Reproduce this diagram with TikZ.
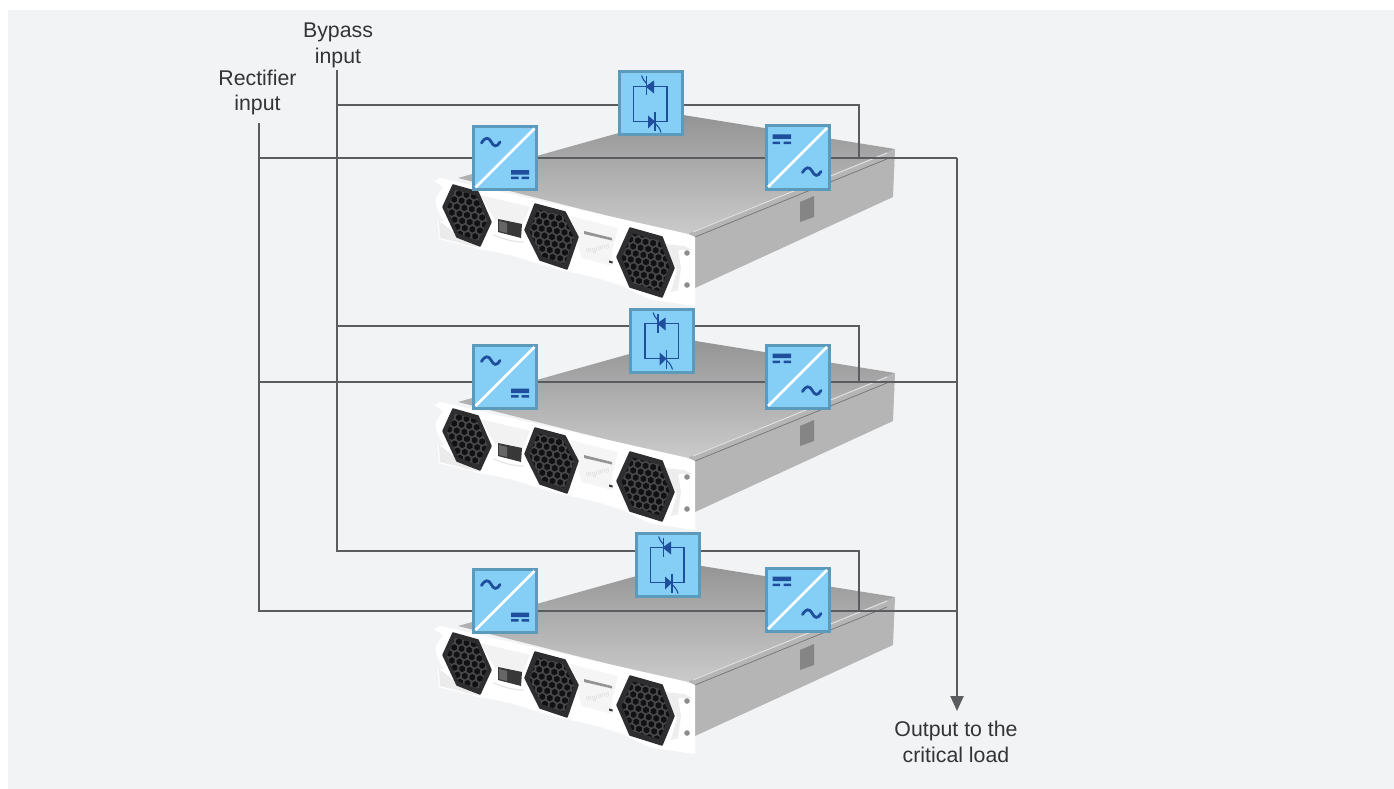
\documentclass[tikz,border=0pt]{standalone}
\usepackage{fontspec}
\setmainfont{Liberation Sans}
\usetikzlibrary{arrows.meta,calc}
\pgfdeclarelayer{units}
\pgfdeclarelayer{wires}
\pgfsetlayers{units,wires,main}
\definecolor{pagebg}{HTML}{F1F3F5}
\definecolor{boxfill}{HTML}{85CFF7}
\definecolor{boxedge}{HTML}{5B9ABA}
\definecolor{iconblue}{HTML}{1F4E9C}
\definecolor{wirecol}{HTML}{5B5C5F}
\definecolor{labelcol}{HTML}{333436}
\definecolor{bezel}{HTML}{2E2E30}
\definecolor{web}{HTML}{48484A}
\definecolor{hole}{HTML}{111113}
\newcommand\fanhex[8]{%
  \begin{scope}[shift={(#7,#8)}]
    \fill[bezel,draw=bezel,line width=1.5pt,line join=round] (#1) -- (#2) -- (#3) -- (#4) -- (#5) -- (#6) -- cycle;
    \begin{scope}[scale=.84]
      \clip (#1) -- (#2) -- (#3) -- (#4) -- (#5) -- (#6) -- cycle;
      \fill[web] (-30,-40) rectangle (30,40);
      \fill[hole] \foreach \i in {-5,...,5}{\foreach \j in {-5,...,5}{
        ({\i*9+\j*3.2},{\j*8.5+\i*1.5}) ++(0,-3.9) -- ++(3.35,1.95) -- ++(0,3.9) -- ++(-3.35,1.95) -- ++(-3.35,-1.95) -- ++(0,-3.9) -- cycle
      }};
    \end{scope}
  \end{scope}}
\newcommand\upsunit{%
    \shade[top color=black!42,bottom color=black!20,shading angle=0]
      (458,178) -- (683,115) -- (895,149) -- (692,237) -- cycle;
    \fill[black!29] (689,233) -- (895,149) -- (893,197) -- (695,288) -- cycle;
    \draw[white!88!black,line width=1pt] (693,232) -- (887,153);
    \draw[black!55,line width=.7pt] (695,237) -- (887,159);
    \fill[black!48] (800,202) -- (814,196) -- (814,217) -- (800,222) -- cycle;
    \fill[white] (434,181) -- (440,178) -- (688,234) -- (695,237) -- (695,306)
       -- (653,300) .. controls (640,296) and (635,291) .. (627,288)
       .. controls (600,278) and (590,276) .. (570,272)
       .. controls (540,266) and (515,254) .. (483,250) -- (439,239) -- (438,221) -- (444,221)
       .. controls (438,212) and (434,204) .. (437,196) -- (443,187) -- cycle;
    \fill[black!5] (480,195) -- (530,207) -- (522,226) -- (495,220) -- cycle;
    \fill[black!4] (570,216) -- (618,228) -- (612,252) -- (612,266) -- (582,258) -- cycle;
    \fill[black!7] (664,244) -- (684,246) -- (692,250) -- (678,250) -- (681,268) -- (678,290) -- (671,292) -- (677,270) -- cycle;
    \fill[black!8] (439,221) -- (460,237) -- (480,248) -- (440,238) -- cycle;
    \fill[black!78] (498,219) -- (522,224) -- (521,238) -- (498,232) -- cycle;
    \fill[black!60] (499,221) -- (507,223) -- (507,233) -- (499,231) -- cycle;
    \draw[black!10,line width=1.2pt] (494,235) .. controls (505,240) and (515,242) .. (524,242);
    \fill[black!42] (584,231) -- (612,238) -- (612,240.5) -- (584,234) -- cycle;
    \node[rotate=12,text=black!14,font=\fontsize{7}{7}\selectfont,inner sep=0pt] at (598,249) {legrand};
    \fill[black!80] (609,260.5) -- (612.5,261.5) -- (612.5,263.5) -- (609,262.5) -- cycle;
    \fill[black!45] (687,253) circle (2.8) (687,285) circle (2.8);
    \fanhex{-14,-30}{11,-23}{24,7}{13,31}{-10,22}{-24,-8}{467}{215}
    \fanhex{-17,-33}{13,-25}{26,0}{15,32}{-12,23}{-27,-7}{552}{237}
    \fanhex{-16,-34}{16,-25}{28,6}{16,35}{-16,25}{-29,-5}{646}{262}
}
\tikzset{
  wire/.style={draw=wirecol,line width=2.3pt},
  label/.style={text=labelcol,font=\fontsize{21.3}{25.7}\selectfont,align=center,inner sep=0pt},
  blockbox/.style={draw=boxedge,fill=boxfill,line width=3pt,minimum size=63pt,inner sep=0pt,outer sep=1.5pt},
  icon/.style={draw=iconblue,line width=1.5pt},
  pics/acdc/.style={code={
    \draw[white,line width=2.6pt] (-29.5,29.5) -- (29.5,-29.5);
    \draw[iconblue,line width=2.8pt,line cap=round] (-23.5,-15) .. controls (-20,-21) and (-16.5,-21) .. (-14,-16.5) .. controls (-11.5,-11) and (-8,-10.5) .. (-5,-16);
    \fill[iconblue] (6,12) rectangle (24,16.5) (6,18.5) rectangle (13.5,21) (16.5,18.5) rectangle (24,21);
  }},
  pics/dcac/.style={code={
    \draw[white,line width=2.6pt] (-29.5,29.5) -- (29.5,-29.5);
    \fill[iconblue] (-25,-23) rectangle (-6.5,-18.5) (-25,-16) rectangle (-17.5,-13.5) (-14,-16) rectangle (-6.5,-13.5);
    \draw[iconblue,line width=2.8pt,line cap=round] (5,15) .. controls (8.5,9) and (12,9) .. (14.5,13.5) .. controls (17,19) and (20.5,19.5) .. (23.5,14);
  }},
  pics/bypassicon/.style={code={
    \draw[icon] (-17,-17) rectangle (16.5,18);
    \fill[iconblue] (-5,-17) -- (3.5,-23) -- (3.5,-10) -- cycle;
    \draw[icon] (-4,-27) -- (-4,-8);
    \draw[icon,line width=1.1pt] (-4,-20) .. controls (-6,-22) and (-8,-25) .. (-9,-28);
    \fill[iconblue] (4.5,18) -- (-2.5,12) -- (-2.5,25) -- cycle;
    \draw[icon] (4.5,9) -- (4.5,28);
    \draw[icon,line width=1.1pt] (4.5,20) .. controls (7,22) and (9.5,25) .. (10.5,29);
  }},
}
\begin{document}
\begin{tikzpicture}[x=1pt,y=-1pt]
\useasboundingbox (0,0) rectangle (1394,789);

\begin{pgfonlayer}{units}
  \fill[white] (0,0) rectangle (1394,789);
  \fill[pagebg] (8,10) rectangle (1394,789);
  \begin{scope}\upsunit\end{scope}
  \begin{scope}[shift={(0,224)}]\upsunit\end{scope}
  \begin{scope}[shift={(0,448)}]\upsunit\end{scope}
\end{pgfonlayer}

% blocks
\node[blockbox] (r1) at (505,158) {};   \pic at (r1) {acdc};
\node[blockbox] (r2) at (505,376.5) {}; \pic at (r2) {acdc};
\node[blockbox] (r3) at (505,600.5) {}; \pic at (r3) {acdc};
\node[blockbox] (i1) at (797.5,157.5) {}; \pic at (i1) {dcac};
\node[blockbox] (i2) at (797.5,376.5) {}; \pic at (i2) {dcac};
\node[blockbox] (i3) at (797.5,599.5) {}; \pic at (i3) {dcac};
\node[blockbox] (b1) at (650.5,103.5) {}; \pic at (b1) {bypassicon};
\node[blockbox] (b2) at (662,340.5) {};   \pic at (b2) {bypassicon};
\node[blockbox] (b3) at (667.5,564.5) {}; \pic at (b3) {bypassicon};

% labels
\node[label] (byp) at (338,45.5) {Bypass\\input};
\node[label] (rec) at (257.5,92.5) {Rectifier\\input};
\node[label] (out) at (956,742) {Output to the\\critical load};

% junctions
\coordinate (bt) at (337,71);
\coordinate (rt) at (259,124);
\coordinate (ob) at (957,158);
\coordinate (j1) at (337,105);
\coordinate (j2) at (337,326);
\coordinate (j3) at (337,551);
\coordinate (k1) at (259,158);
\coordinate (k2) at (259,382);
\coordinate (k3) at (259,611);
\coordinate (c1) at (859,105);
\coordinate (c2) at (859,326);
\coordinate (c3) at (859,551);
\coordinate (d1) at (859,158);
\coordinate (d2) at (859,382);
\coordinate (d3) at (859,611);
\coordinate (e2) at (957,382);
\coordinate (e3) at (957,611);
\coordinate (tip) at (957,711);

\begin{pgfonlayer}{wires}
  \draw[wire,line cap=rect] (bt) -- (j3);
  \draw[wire,line cap=rect] (rt) -- (k3);
  \foreach \j/\c/\d/\b/\k/\r/\i/\e in {j1/c1/d1/b1/k1/r1/i1/ob, j2/c2/d2/b2/k2/r2/i2/e2, j3/c3/d3/b3/k3/r3/i3/e3}{
    \draw[wire] (\j) -- (\b.west |- \j);
    \draw[wire] (\b.east |- \j) -- (\c) -- (\d);
    \draw[wire] (\k) -- (\r.west |- \k);
    \draw[wire] (\r.east |- \k) -- (\i.west |- \k);
    \draw[wire] (\i.east |- \k) -- (\e);
  }
  \draw[wire,-{Triangle[length=15pt,width=13pt]}] (ob) -- (tip);
\end{pgfonlayer}
\end{tikzpicture}
\end{document}
